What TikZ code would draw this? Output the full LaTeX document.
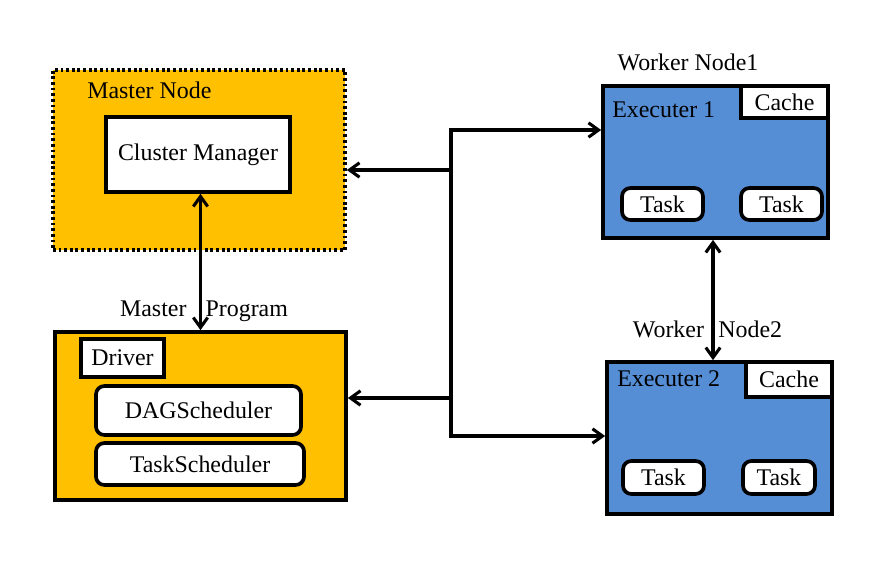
\documentclass[tikz,border=0pt]{standalone}
\usepackage{fontspec}
\setmainfont{Liberation Serif}
\usetikzlibrary{arrows.meta}
\definecolor{masterorange}{HTML}{FFC000}
\definecolor{workerblue}{HTML}{558ED5}
\tikzset{
  unit/.style={draw, line width=2.6pt, inner sep=0pt},
  whitebox/.style={unit, fill=white},
  roundbox/.style={whitebox, rounded corners=6pt},
  tag/.style={anchor=west, inner sep=0pt},
  link/.style={line width=2.2pt}
}
\begin{document}
\begin{tikzpicture}[x=0.025cm, y=-0.025cm, font=\fontsize{17}{20}\selectfont,
  >={Straight Barb[length=2.5mm,width=3.6mm]}]
\useasboundingbox (0,0) rectangle (895,587);
% master side
\node[unit, fill=masterorange, dash pattern=on 2pt off 2pt, minimum width=7.3cm, minimum height=4.5cm] (master) at (199,160) {};
\node[tag] (mastertitle) at (87,90) {Master Node};
\node[whitebox, minimum width=4.6cm, minimum height=1.875cm] (cluster) at (198,154.5) {Cluster Manager};
\node[unit, fill=masterorange, minimum width=7.275cm, minimum height=4.2cm] (mprog) at (200.5,416) {};
\node (mproglabel) at (204,311) {Master\hspace{0.8em}Program};
\node[whitebox, minimum width=2.075cm, minimum height=0.95cm] (driver) at (122.5,358) {Driver};
\node[roundbox, minimum width=5.125cm, minimum height=1.225cm] (dag) at (198.5,410.5) {DAGScheduler};
\node[roundbox, minimum width=5.2cm, minimum height=1.05cm] (tasksched) at (200,464) {TaskScheduler};
% workers
\node (worker1label) at (688,62) {Worker Node1};
\node[unit, fill=workerblue, minimum width=5.625cm, minimum height=3.8cm] (worker1) at (715.5,162) {};
\node[tag] (exec1) at (612,110) {Executer 1};
\node[whitebox, minimum width=2.175cm, minimum height=0.8cm] (cache1) at (784.5,102) {Cache};
\node[roundbox, minimum width=2.025cm, minimum height=0.8cm] (task1a) at (662.5,204) {Task};
\node[roundbox, minimum width=2.025cm, minimum height=0.8cm] (task1b) at (781.5,204) {Task};
\node (worker2label) at (707.5,329) {Worker\hspace{0.6em}Node2};
\node[unit, fill=workerblue, minimum width=5.625cm, minimum height=3.8cm] (worker2) at (719.5,438) {};
\node[tag] (exec2) at (617,379) {Executer 2};
\node[whitebox, minimum width=2.15cm, minimum height=0.875cm] (cache2) at (789,379.5) {Cache};
\node[roundbox, minimum width=2.025cm, minimum height=0.825cm] (task2a) at (663.5,477.5) {Task};
\node[roundbox, minimum width=1.8cm, minimum height=0.825cm] (task2b) at (779,477.5) {Task};
% connectors
\coordinate (bustop) at (451,130);
\coordinate (busmaster) at (451,170);
\coordinate (busprog) at (451,398);
\coordinate (busbottom) at (451,436);
\draw[link, <->] (bustop -| worker1.west) -- (bustop) -- (busbottom) -- (busbottom -| worker2.west);
\draw[link, ->] (busmaster) -- (busmaster -| master.east);
\draw[link, ->] (busprog) -- (busprog -| mprog.east);
\draw[link, <->] (cluster.south -| mprog.north) -- (mprog.north);
\draw[link, <->] (713,0 |- worker1.south) -- (713,0 |- worker2.north);
\end{tikzpicture}
\end{document}
